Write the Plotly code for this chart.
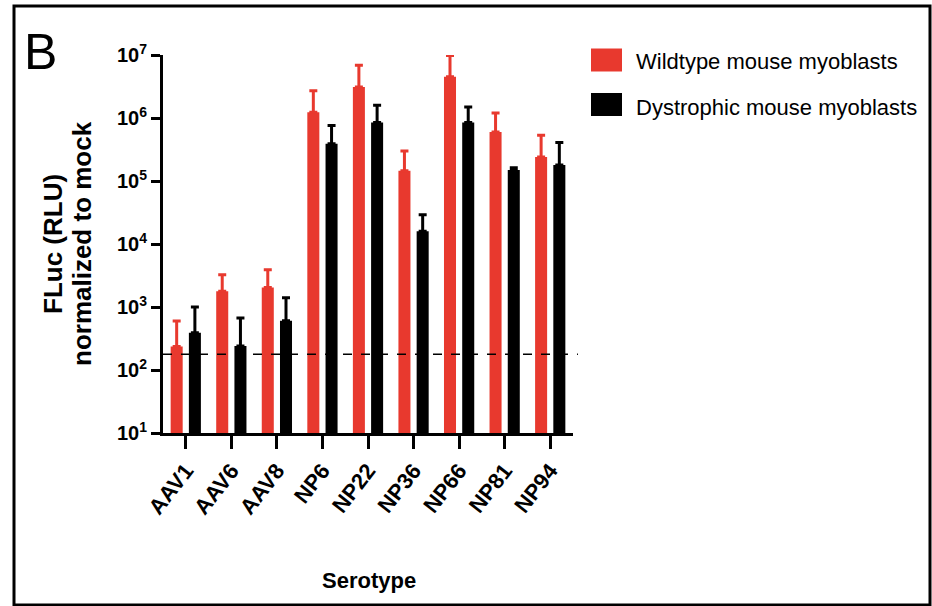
import plotly.graph_objects as go

serotypes = ["AAV1", "AAV6", "AAV8", "NP6", "NP22", "NP36", "NP66", "NP81", "NP94"]
wildtype = [235, 1780, 2040, 1.23e6, 3.1e6, 1.45e5, 4.5e6, 6.0e5, 2.4e5]
wildtype_upper = [600, 3240, 3900, 2.7e6, 6.9e6, 3.0e5, 9.8e6, 1.2e6, 5.3e5]
dystrophic = [390, 240, 605, 3.9e5, 8.5e5, 1.6e4, 8.5e5, 1.5e5, 1.8e5]
dystrophic_upper = [1000, 670, 1400, 7.6e5, 1.6e6, 2.9e4, 1.5e6, 1.62e5, 4.1e5]
mock_threshold = 178
y_tick_vals = [10, 100, 1000, 1e4, 1e5, 1e6, 1e7]
y_tick_text = ["10<sup>1</sup>", "10<sup>2</sup>", "10<sup>3</sup>", "10<sup>4</sup>",
               "10<sup>5</sup>", "10<sup>6</sup>", "10<sup>7</sup>"]

RED = "#e8392e"
BLACK = "#000000"
FONT = "Liberation Sans, Arial, sans-serif"

fig = go.Figure()
fig.add_trace(go.Bar(
    x=serotypes, y=wildtype, name="Wildtype mouse myoblasts",
    marker=dict(color=RED, line=dict(width=0)),
    error_y=dict(type="data", symmetric=False,
                 array=[u - v for u, v in zip(wildtype_upper, wildtype)],
                 arrayminus=[0] * len(wildtype),
                 color=RED, thickness=3, width=4),
))
fig.add_trace(go.Bar(
    x=serotypes, y=dystrophic, name="Dystrophic mouse myoblasts",
    marker=dict(color=BLACK, line=dict(width=0)),
    error_y=dict(type="data", symmetric=False,
                 array=[u - v for u, v in zip(dystrophic_upper, dystrophic)],
                 arrayminus=[0] * len(dystrophic),
                 color=BLACK, thickness=3, width=4),
))

# dashed mock threshold
fig.add_shape(type="line", xref="paper", yref="y", x0=0, x1=1.012,
              y0=mock_threshold, y1=mock_threshold,
              line=dict(color="black", width=1.5, dash="dash"))

# frame
fig.add_shape(type="rect", xref="paper", yref="paper",
              x0=(14 - 163) / 410, x1=(930 - 163) / 410,
              y0=(433 - 605) / 378, y1=(433 - 6) / 378,
              line=dict(color="black", width=3))

# legend (manual)
leg = [("Wildtype mouse myoblasts", RED, 60, 62), ("Dystrophic mouse myoblasts", BLACK, 104.5, 107)]
for text, col, yc, yt in leg:
    fig.add_shape(type="rect", xref="paper", yref="paper",
                  x0=(591 - 163) / 410, x1=(622 - 163) / 410,
                  y0=(433 - (yc + 11.5)) / 378, y1=(433 - (yc - 11.5)) / 378,
                  fillcolor=col, line=dict(width=0))
    fig.add_annotation(text=text, xref="paper", yref="paper",
                       x=(634 - 163) / 410, y=(433 - yt) / 378,
                       xanchor="left", yanchor="middle", showarrow=False,
                       font=dict(family=FONT, size=22, color="black"))

fig.add_annotation(text="B", xref="paper", yref="paper",
                   x=(40 - 163) / 410, y=(433 - 52) / 378,
                   xanchor="center", yanchor="middle", showarrow=False,
                   font=dict(family=FONT, size=50, color="black"))

for txt, xc in [("FLuc (RLU)", 53), ("normalized to mock", 82)]:
    fig.add_annotation(text=txt, xref="paper", yref="paper",
                       x=(xc - 163) / 410, y=(433 - 244) / 378, textangle=-90,
                       xanchor="center", yanchor="middle", showarrow=False,
                       font=dict(family=FONT, size=26, color="black", weight="bold"))

fig.add_annotation(text="Serotype", xref="paper", yref="paper",
                   x=(369 - 163) / 410, y=(433 - 580) / 378,
                   xanchor="center", yanchor="middle", showarrow=False,
                   font=dict(family=FONT, size=22, color="black", weight="bold"))

fig.update_layout(
    width=932, height=606,
    margin=dict(l=163, r=932 - 573, t=55, b=606 - 433),
    paper_bgcolor="white", plot_bgcolor="white",
    barmode="group", bargap=0.2, bargroupgap=0.34,
    showlegend=False,
    xaxis=dict(
        range=[-0.5, 8.5], showline=True, linecolor="black", linewidth=3,
        ticks="outside", ticklen=13, tickwidth=2.5, tickcolor="black",
        tickangle=-52, showgrid=False, zeroline=False,
        tickfont=dict(family=FONT, size=22, color="black", weight="bold"),
    ),
    yaxis=dict(
        type="log", range=[1, 7], showline=True, linecolor="black", linewidth=3,
        ticks="outside", ticklen=9, tickwidth=3, tickcolor="black",
        tickvals=y_tick_vals, ticktext=y_tick_text,
        showgrid=False, zeroline=False,
        tickfont=dict(family=FONT, size=20, color="black", weight="bold"),
    ),
)

fig.write_html("out.html", config={"displayModeBar": False},
               post_script="document.body.style.margin='0';")
